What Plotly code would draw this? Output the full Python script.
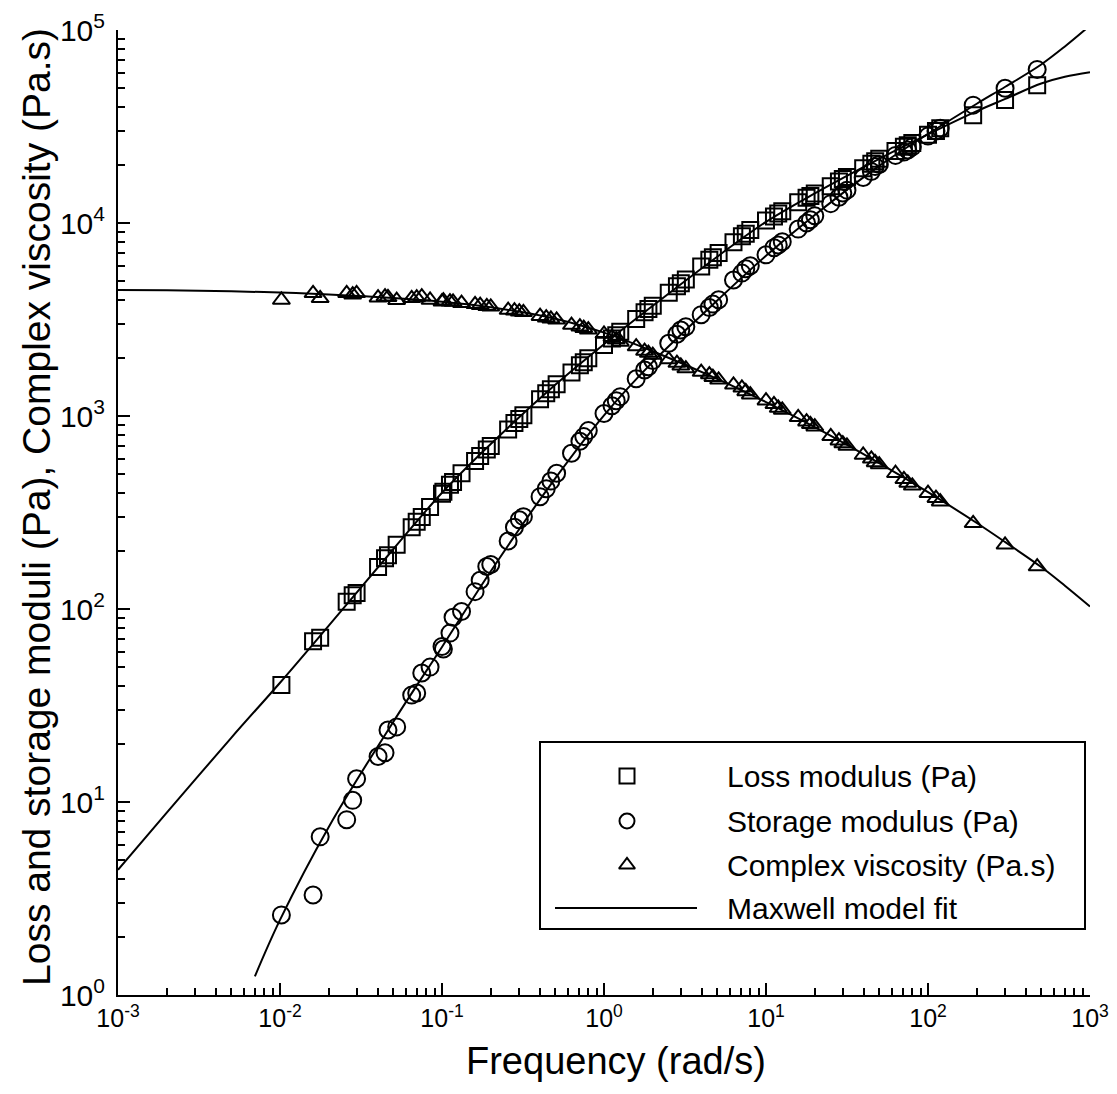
import plotly.graph_objects as go

# ---------------- data ----------------
freq = [0.0102, 0.016, 0.0177, 0.0258, 0.0281, 0.0297, 0.0403, 0.0445, 0.0464, 0.0525,
        0.065, 0.0698, 0.075, 0.0844, 0.100, 0.102, 0.112, 0.117, 0.132, 0.160,
        0.172, 0.189, 0.200, 0.256, 0.280, 0.300, 0.318, 0.403, 0.44, 0.47,
        0.51, 0.63, 0.71, 0.75, 0.80, 1.0, 1.12, 1.19, 1.26, 1.58,
        1.78, 1.88, 2.0, 2.51, 2.82, 2.98, 3.2, 3.98, 4.47, 4.7,
        5.1, 6.3, 7.1, 7.5, 8.0, 10.0, 11.2, 11.9, 12.6, 15.8,
        17.8, 18.8, 20.0, 25.1, 28.2, 29.8, 31.6, 39.8, 44.7, 47.2,
        50.0, 63.0, 71.0, 75.0, 80.0, 100.0, 112.0, 119.0, 190.0, 299.0, 472.0]

loss_modulus = [40.4, 68, 71, 109, 118, 121, 165, 183, 190, 215,
                265, 283, 300, 338, 395, 405, 440, 455, 505, 585,
                620, 670, 700, 850, 920, 965, 1010, 1220, 1310, 1375,
                1460, 1680, 1830, 1900, 1990, 2330, 2520, 2620, 2730, 3180,
                3450, 3580, 3730, 4350, 4700, 4880, 5100, 5950, 6450, 6650,
                7000, 7950, 8550, 8800, 9200, 10300, 10800, 11200, 11500, 12800,
                13500, 13800, 14200, 15500, 16400, 16900, 17300, 19200, 20300, 20900,
                21500, 23600, 24800, 25300, 26000, 28700, 30000, 31000, 36200, 43400, 51800]

storage_modulus = [2.6, 3.3, 6.6, 8.1, 10.2, 13.2, 17.2, 18.0, 23.6, 24.5,
                   35.8, 36.7, 46.6, 50, 64, 62, 75, 90.7, 97, 123,
                   141, 166, 170, 225, 265, 290, 301, 382, 420, 460,
                   505, 641, 740, 782, 840, 1030, 1130, 1200, 1260, 1560,
                   1730, 1800, 1940, 2380, 2650, 2790, 2900, 3350, 3650, 3800,
                   4000, 5070, 5500, 5800, 6000, 6840, 7450, 7700, 8000, 9300,
                   10000, 10400, 10900, 12600, 13600, 14300, 14800, 17200, 18500, 19600,
                   20100, 22400, 23300, 23900, 24800, 28200, 30000, 31000, 40800, 49900, 62500]

complex_viscosity = [3990, 4320, 4070, 4320, 4250, 4320, 4100, 4150, 4120, 3980,
                     4070, 4110, 4150, 3990, 3910, 3960, 3910, 3900, 3840, 3790,
                     3750, 3700, 3680, 3540, 3510, 3470, 3445, 3290, 3230, 3190,
                     3150, 2960, 2900, 2850, 2800, 2660, 2560, 2490, 2420, 2290,
                     2170, 2120, 2070, 1960, 1880, 1820, 1760, 1690, 1640, 1590,
                     1540, 1450, 1400, 1340, 1290, 1200, 1150, 1100, 1075, 985,
                     935, 905, 880, 785, 745, 720, 700, 628, 600, 575,
                     560, 505, 470, 450, 435, 398, 375, 360, 278, 215, 166]

# Maxwell model fit curves
fit_freq = [0.001, 0.002, 0.005, 0.01, 0.02, 0.05, 0.1, 0.2, 0.5, 1, 2, 5, 10, 20, 50,
            100, 200, 300, 500, 700, 1000]
fit_loss = [4.45, 8.8, 21.5, 41.5, 82, 204, 400, 716, 1450, 2356, 3723, 6690, 10140, 14240, 21500,
            28770, 37970, 43930, 52800, 57230, 60380]
fit_visc = [4500, 4481, 4428, 4361, 4265, 4093, 3913, 3662, 3192, 2703, 2165, 1557, 1180, 876, 570,
            403, 279, 222, 165, 132, 103]
fit_storage_freq = [0.007, 0.01, 0.02, 0.05, 0.1, 0.2, 0.5, 1, 2, 5, 10, 20, 50,
                    100, 200, 300, 500, 700, 1000]
fit_storage = [1.25, 2.45, 7.43, 26, 63.6, 157, 475, 1008, 1907, 3968, 6766, 10990, 19760,
               28930, 41490, 50820, 66290, 82200, 105500]

x_tick_vals = [0.001, 0.01, 0.1, 1, 10, 100, 1000]
x_tick_text = ["10<sup>-3</sup>", "10<sup>-2</sup>", "10<sup>-1</sup>", "10<sup>0</sup>",
               "10<sup>1</sup>", "10<sup>2</sup>", "10<sup>3</sup>"]
y_tick_vals = [1, 10, 100, 1000, 10000, 100000]
y_tick_text = ["10<sup>0</sup>", "10<sup>1</sup>", "10<sup>2</sup>", "10<sup>3</sup>",
               "10<sup>4</sup>", "10<sup>5</sup>"]

x_title = "Frequency (rad/s)"
y_title = "Loss and storage moduli (Pa), Complex viscosity (Pa.s)"
legend_labels = ["Loss modulus (Pa)", "Storage modulus (Pa)", "Complex viscosity (Pa.s)",
                 "Maxwell model fit"]

# ---------------- figure ----------------
FONT = "Arial, Liberation Sans, sans-serif"
BLACK = "#000000"
PAGE_OFF = 8                      # default body margin of the html page
W, H = 1117 - 2 * PAGE_OFF, 1094 - 2 * PAGE_OFF
# plot area wanted on the page: x 118..1090, y 30..995
ML = 118 - PAGE_OFF
MT = 30 - PAGE_OFF
MR = W - (1090 - PAGE_OFF)
MB = H - (995 - PAGE_OFF)
PW, PH = W - ML - MR, H - MT - MB


def px_x(p):
    """page pixel x -> paper fraction"""
    return (p - PAGE_OFF - ML) / PW


def px_y(p):
    """page pixel y -> paper fraction"""
    return (H - MB - (p - PAGE_OFF)) / PH


fig = go.Figure()

line_style = dict(color=BLACK, width=2, shape="spline", smoothing=1.0)
fig.add_trace(go.Scatter(x=fit_freq, y=fit_loss, mode="lines", line=line_style,
                         showlegend=False, hoverinfo="skip"))
fig.add_trace(go.Scatter(x=fit_storage_freq, y=fit_storage, mode="lines", line=line_style,
                         showlegend=False, hoverinfo="skip"))
fig.add_trace(go.Scatter(x=fit_freq, y=fit_visc, mode="lines", line=line_style,
                         showlegend=False, hoverinfo="skip"))

mk = dict(color=BLACK, line=dict(color=BLACK, width=2))
fig.add_trace(go.Scatter(x=freq, y=loss_modulus, mode="markers", name=legend_labels[0],
                         marker=dict(symbol="square-open", size=16, **mk), showlegend=False))
fig.add_trace(go.Scatter(x=freq, y=storage_modulus, mode="markers", name=legend_labels[1],
                         marker=dict(symbol="circle-open", size=17, **mk), showlegend=False))
fig.add_trace(go.Scatter(x=freq, y=complex_viscosity, mode="markers", name=legend_labels[2],
                         marker=dict(symbol="triangle-up-open", size=15, **mk), showlegend=False))

# ---- hand-drawn legend box (matches the reference layout) ----
leg_x0, leg_x1 = px_x(540), px_x(1085)
leg_y0, leg_y1 = px_y(929), px_y(742)
row_y = [px_y(776), px_y(821), px_y(865), px_y(908)]
sym_x = px_x(627)
text_x = px_x(725)

fig.add_shape(type="rect", xref="paper", yref="paper", x0=leg_x0, x1=leg_x1,
              y0=leg_y0, y1=leg_y1, line=dict(color=BLACK, width=2),
              fillcolor="white", layer="below")
fig.add_shape(type="line", xref="paper", yref="paper", x0=px_x(555), x1=px_x(697),
              y0=row_y[3], y1=row_y[3], line=dict(color=BLACK, width=2))

leg_symbols = ["square-open", "circle-open", "triangle-up-open"]
leg_sizes = [15, 15, 14]
for i in range(3):
    fig.add_trace(go.Scatter(x=[sym_x], y=[row_y[i]], xaxis="x2", yaxis="y2", mode="markers",
                             marker=dict(symbol=leg_symbols[i], size=leg_sizes[i], **mk),
                             showlegend=False, hoverinfo="skip"))
for i, lab in enumerate(legend_labels):
    fig.add_annotation(x=text_x, y=row_y[i], xref="paper", yref="paper", text=lab,
                       showarrow=False, xanchor="left", yanchor="middle",
                       font=dict(family=FONT, size=30, color=BLACK))

# ---- axis titles placed where the reference has them ----
fig.add_annotation(x=px_x(616), y=px_y(1061), xref="paper", yref="paper", text=x_title,
                   showarrow=False, xanchor="center", yanchor="middle",
                   font=dict(family=FONT, size=38, color=BLACK))
fig.add_annotation(x=px_x(37), y=px_y(507), xref="paper", yref="paper", text=y_title,
                   showarrow=False, xanchor="center", yanchor="middle", textangle=-90,
                   font=dict(family=FONT, size=39, color=BLACK))

axis_common = dict(
    type="log", showgrid=False, zeroline=False, showline=True, linecolor=BLACK, linewidth=2,
    ticks="inside", ticklen=12, tickwidth=1.5, tickcolor=BLACK, tickmode="array",
    automargin=False,
)

x_minor = [k * 10.0 ** e for e in range(-3, 3) for k in range(2, 10)]
y_minor = [k * 10.0 ** e for e in range(0, 5) for k in range(2, 10)]

fig.update_layout(
    width=W, height=H,
    margin=dict(l=ML, r=MR, t=MT, b=MB),
    paper_bgcolor="white", plot_bgcolor="white",
    showlegend=False,
    font=dict(family=FONT, color=BLACK),
    xaxis=dict(range=[-3, 3], tickvals=x_tick_vals, ticktext=x_tick_text,
               tickfont=dict(family=FONT, size=25, color=BLACK),
               minor=dict(tickmode="array", tickvals=x_minor, ticks="inside", ticklen=7,
                          tickwidth=1.5, tickcolor=BLACK),
               **axis_common),
    yaxis=dict(range=[0, 5], tickvals=y_tick_vals, ticktext=y_tick_text,
               tickfont=dict(family=FONT, size=30, color=BLACK), ticklabelstandoff=5,
               minor=dict(tickmode="array", tickvals=y_minor, ticks="inside", ticklen=7,
                          tickwidth=1.5, tickcolor=BLACK),
               **axis_common),
    xaxis2=dict(domain=[0, 1], range=[0, 1], overlaying="x", visible=False, fixedrange=True),
    yaxis2=dict(domain=[0, 1], range=[0, 1], overlaying="y", visible=False, fixedrange=True),
)

fig.write_html("out.html")
